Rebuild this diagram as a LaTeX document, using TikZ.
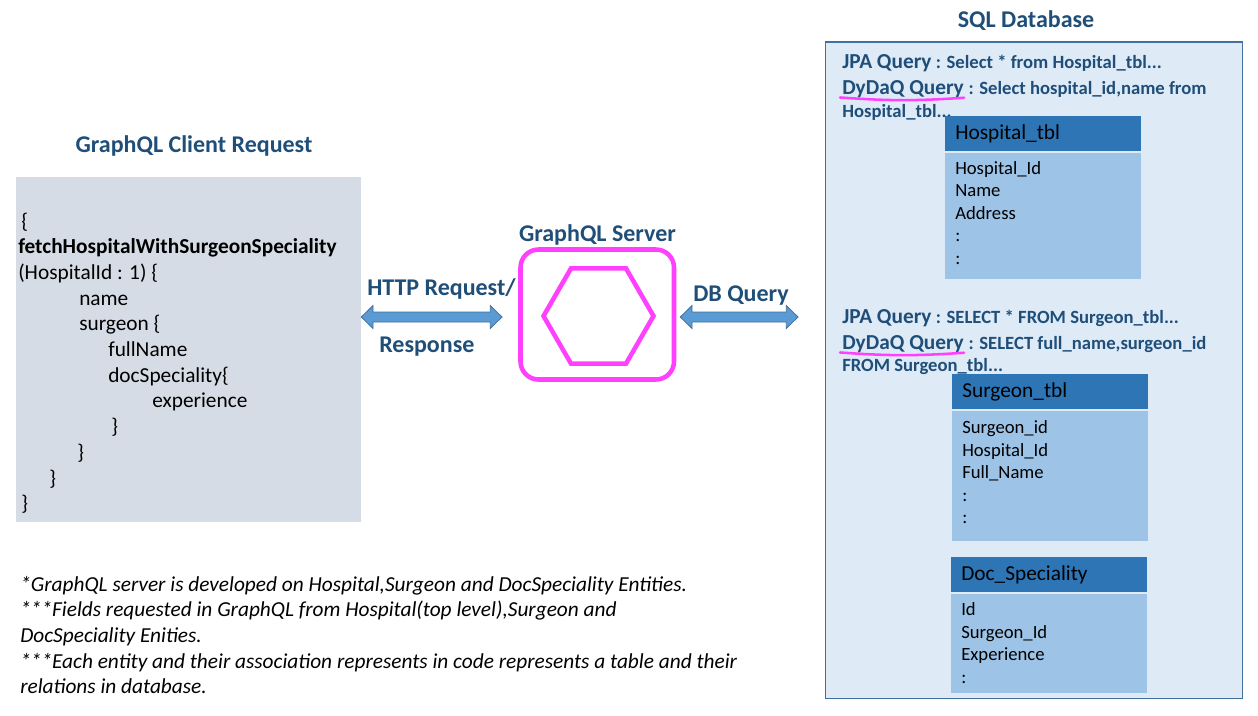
\documentclass[tikz,border=0pt]{standalone}
\usepackage{fontspec}
\setmainfont{Carlito}
\usetikzlibrary{positioning}
\usetikzlibrary{fit}
\usetikzlibrary{calc}
\usetikzlibrary{shapes.geometric}
\definecolor{titleblue}{HTML}{1F4E79}
\definecolor{clientgray}{HTML}{D6DCE5}
\definecolor{arrowfill}{HTML}{5B9BD5}
\definecolor{arrowline}{HTML}{41719C}
\definecolor{srvpink}{HTML}{FF40FF}
\definecolor{dbfill}{HTML}{DEEBF7}
\definecolor{dbline}{HTML}{41719C}
\definecolor{headblue}{HTML}{2E75B6}
\definecolor{bodyblue}{HTML}{9DC3E6}
\newcommand{\qbig}{\fontsize{16pt}{19pt}\selectfont}
\newcommand{\lift}{\par\kern5pt\hrule height0pt}
\tikzset{
title/.style={ % Bold blue headings
anchor=base, inner sep=0pt, text=titleblue,
font=\bfseries\fontsize{18pt}{21pt}\selectfont},
codeline/.style={anchor=base west, inner sep=0pt,
font=\fontsize{16pt}{19pt}\selectfont},
note/.style={anchor=base west, inner sep=0pt,
font=\itshape\fontsize{16pt}{19pt}\selectfont},
clientbox/.style={fill=clientgray, inner sep=0pt},
srvbox/.style={draw=srvpink, line width=3.4pt, rounded corners=13.5pt, inner sep=0pt},
hexa/.style={draw=srvpink, line width=3.4pt, regular polygon,
regular polygon sides=6, minimum size=82.5pt, inner sep=0pt},
dbbox/.style={draw=dbline, fill=dbfill, line width=1.1pt, inner sep=0pt},
qtxt/.style={anchor=base west, inner sep=0pt, text=titleblue,
font=\bfseries\fontsize{14pt}{17pt}\selectfont},
tblhead/.style={ % Dark header of a table
fill=headblue, text width=132pt, align=left, inner xsep=7.5pt, inner ysep=0pt,
minimum height=26.25pt, anchor=north west, font=\fontsize{16pt}{19pt}\selectfont},
tblbody/.style={ % Light body of a table
fill=bodyblue, text width=132pt, align=left, inner xsep=7.5pt, inner ysep=0pt,
font=\fontsize{14pt}{16.9pt}\selectfont},
uline/.style={draw=srvpink, line width=1.9pt, line cap=round},
dblarrow/.style={ % Block arrow with two heads
draw=arrowline, fill=arrowfill, line width=0.6pt,
to path={let \p1=(\tikztostart), \p2=(\tikztotarget) in
(\x1,\y1) -- (\x1+8.8pt,\y1+8.6pt) -- (\x1+8.8pt,\y1+3.75pt)
-- (\x2-8.8pt,\y1+3.75pt) -- (\x2-8.8pt,\y1+8.6pt) -- (\x2,\y1)
-- (\x2-8.8pt,\y1-8.6pt) -- (\x2-8.8pt,\y1-3.75pt)
-- (\x1+8.8pt,\y1-3.75pt) -- (\x1+8.8pt,\y1-8.6pt) -- cycle}}
}

\begin{document}
\begin{tikzpicture}[x=0.75pt,y=-0.75pt]
	\fill[white] (0,0) rectangle (1258,715);
	\useasboundingbox (0,0) rectangle (1258,715);
	% client side
	\node[title] (clienttitle) at (194,152) {GraphQL Client Request};
	\node[clientbox, fit={(16,177) (361,522)}] (client) {};
	\foreach \ind/\txt [count=\i from 0] in {3/{\{}, 0/{\textbf{fetchHospitalWithSurgeonSpeciality}}, 0/{(HospitalId : 1) \{}, 61/name, 61/{surgeon \{}, 90/fullName, 90/{docSpeciality\{}, 134/experience, 93/{\}}, 59/{\}}, 31/{\}}, 3/{\}}}
		\node[codeline] (c\i) at (18+\ind,228+25.7*\i) {\txt};
	% server
	\node[title] (srvtitle) at (597.5,241) {GraphQL Server};
	\node[srvbox, fit={(520.5,249.5) (674,379.5)}] (srv) {};
	\node[hexa] (hex) at (598.5,316) {};
	% database
	\node[title] (dbtitle) at (1026,27) {SQL Database};
	\node[dbbox, fit={(825.5,42) (1242.5,698.5)}] (db) {};
	\node[qtxt] (q1) at (842,68) {{\qbig JPA Query} : Select * from Hospital\_tbl...};
	\node[qtxt] (dy1) at (842,94) {\qbig DyDaQ Query};
	\node[qtxt] (dy1t) at (dy1.base east) {\ : Select hospital\_id,name from};
	\node[qtxt] (q1b) at (842,117) {Hospital\_tbl...};
	\draw[uline] ([xshift=-1.5pt,yshift=-2.6pt]dy1.base west) to[bend right=4] ([yshift=-2.8pt]dy1.base east);
	\node[qtxt] (q2) at (842,323) {{\qbig JPA Query} : SELECT * FROM Surgeon\_tbl...};
	\node[qtxt] (dy2) at (842,349) {\qbig DyDaQ Query};
	\node[qtxt] (dy2t) at (dy2.base east) {\ : SELECT full\_name,surgeon\_id};
	\node[qtxt] (q2b) at (842,371) {FROM Surgeon\_tbl...};
	\draw[uline] ([xshift=-1.5pt,yshift=-2.6pt]dy2.base west) to[bend right=4] ([yshift=-2.8pt]dy2.base east);
	% tables
	\node[tblhead] (hosp) at (945,116) {Hospital\_tbl};
	\node[tblbody, minimum height=95pt, below=0.75pt of hosp.south west, anchor=north west] (hospb) {Hospital\_Id\\Name\\Address\\:\\:\lift};
	\node[tblhead] (surg) at (952,374) {Surgeon\_tbl};
	\node[tblbody, minimum height=97.5pt, below=0.75pt of surg.south west, anchor=north west] (surgb) {Surgeon\_id\\Hospital\_Id\\Full\_Name\\:\\:\lift};
	\node[tblhead] (spec) at (951,557) {Doc\_Speciality};
	\node[tblbody, minimum height=74.25pt, below=0.75pt of spec.south west, anchor=north west] (specb) {Id\\Surgeon\_Id\\Experience\\:};
	% connectors
	\coordinate (httpR) at (502,317);
	\coordinate (dbR) at (798,317);
	\draw[dblarrow] (client.east |- httpR) to (httpR);
	\draw[dblarrow] ([xshift=3pt]srv.east |- dbR) to (dbR);
	\node[title, anchor=base west] (http) at (367,295) {HTTP Request/};
	\node[title, anchor=base west] (resp) at (379,352) {Response};
	\node[title, anchor=base west] (dbq) at (693,301) {DB Query};
	% notes
	\node[note] (n1) at (20,591) {*GraphQL server is developed on Hospital,Surgeon and DocSpeciality Entities.};
	\node[note] (n2) at (20,616.7) {***Fields requested in GraphQL from Hospital(top level),Surgeon and};
	\node[note] (n3) at (20,642) {DocSpeciality Enities.};
	\node[note] (n4) at (20,668) {***Each entity and their association represents in code represents a table and their};
	\node[note] (n5) at (20,693) {relations in database.};
\end{tikzpicture}
\end{document}
